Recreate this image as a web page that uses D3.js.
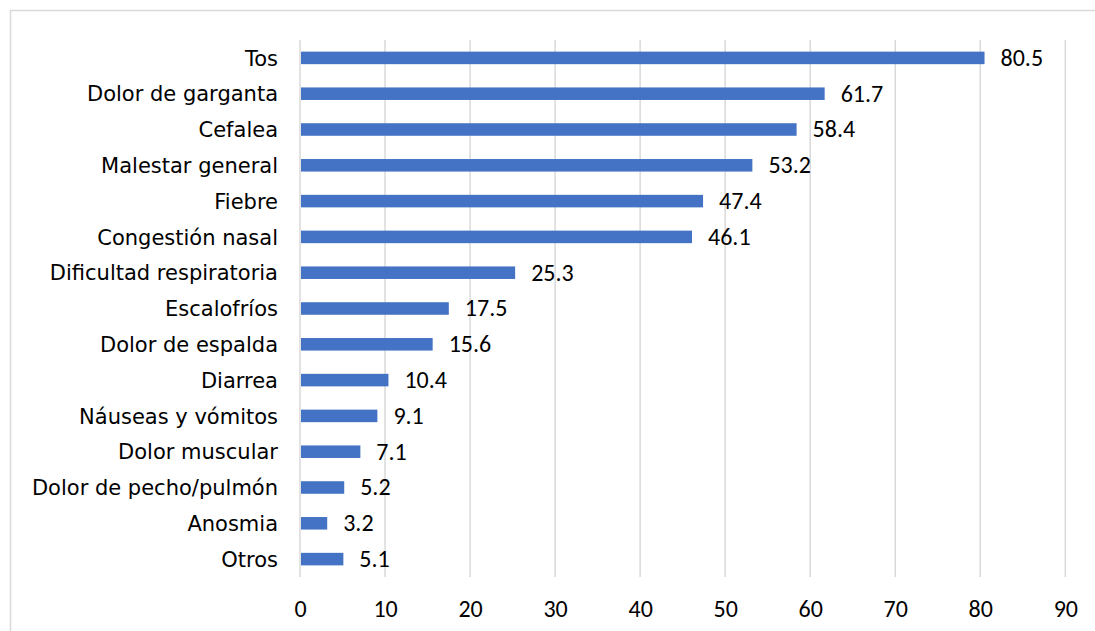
<!DOCTYPE html>
<html>
<head>
<meta charset="utf-8">
<script src="https://cdn.jsdelivr.net/npm/d3@7"></script>
<style>
  html, body { margin: 0; padding: 0; background: #fff; }
  svg { display: block; }
</style>
</head>
<body>
<svg id="chart" width="1095" height="631"></svg>
<script>
// Síntomas reportados (%)
const categories = [
  "Tos", "Dolor de garganta", "Cefalea", "Malestar general", "Fiebre",
  "Congestión nasal", "Dificultad respiratoria", "Escalofríos", "Dolor de espalda",
  "Diarrea", "Náuseas y vómitos", "Dolor muscular", "Dolor de pecho/pulmón",
  "Anosmia", "Otros"
];
const values = [80.5, 61.7, 58.4, 53.2, 47.4, 46.1, 25.3, 17.5, 15.6, 10.4, 9.1, 7.1, 5.2, 3.2, 5.1];
const xTicks = [0, 10, 20, 30, 40, 50, 60, 70, 80, 90];

const svg = d3.select("#chart");
const labelFont = "Verdana, 'DejaVu Sans', sans-serif";
const numFont = "Calibri, Carlito, 'Liberation Sans', sans-serif";

// Chart frame
svg.append("rect")
  .attr("x", 10.5).attr("y", 10.5)
  .attr("width", 1100).attr("height", 640)
  .attr("fill", "#fff")
  .attr("stroke", "#d9d9d9").attr("stroke-width", 1.5);

const plot = { left: 300, right: 1065.3, top: 40, bottom: 577 };

const x = d3.scaleLinear().domain([0, 90]).range([plot.left, plot.right]);
const y = d3.scaleBand().domain(categories).range([plot.top, plot.bottom]).paddingInner(0.65).paddingOuter(0.325);

// Vertical gridlines
svg.append("g")
  .selectAll("line")
  .data(xTicks)
  .join("line")
  .attr("x1", d => x(d)).attr("x2", d => x(d))
  .attr("y1", plot.top).attr("y2", plot.bottom)
  .attr("stroke", "#d9d9d9").attr("stroke-width", 1.5);

// X axis labels
const xAxis = d3.axisBottom(x).tickValues(xTicks).tickSize(0).tickPadding(0).tickFormat(d3.format("d"));
const gx = svg.append("g").attr("transform", `translate(0,${617})`).call(xAxis);
gx.select(".domain").remove();
gx.selectAll("text")
  .attr("y", 0).attr("dy", 0)
  .attr("font-family", numFont).attr("font-size", 24).attr("fill", "#000");

// Category labels
const yAxis = d3.axisLeft(y).tickSize(0).tickPadding(0);
const gy = svg.append("g").attr("transform", `translate(${278},0)`).call(yAxis);
gy.select(".domain").remove();
gy.selectAll("text").attr("font-family", labelFont).attr("font-size", 21).attr("fill", "#000").attr("dy", "0.37em");

// Bars
svg.append("g")
  .selectAll("rect")
  .data(values)
  .join("rect")
  .attr("x", x(0) + 1)
  .attr("y", (d, i) => y(categories[i]))
  .attr("width", d => x(d) - x(0) - 1)
  .attr("height", y.bandwidth())
  .attr("fill", "#4472c4");

// Value labels
svg.append("g")
  .selectAll("text")
  .data(values)
  .join("text")
  .attr("x", d => x(d) + 16)
  .attr("y", (d, i) => y(categories[i]) + y.bandwidth() / 2)
  .attr("dy", "0.33em")
  .attr("font-family", numFont).attr("font-size", 24).attr("fill", "#000")
  .text(d => d3.format(".1f")(d));
</script>
</body>
</html>
